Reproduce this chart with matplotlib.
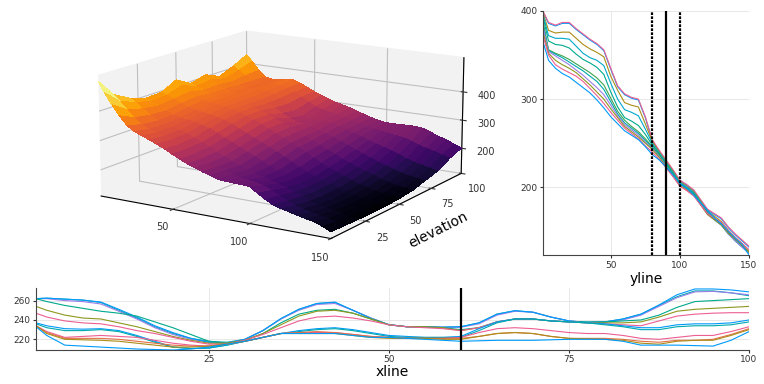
import numpy as np
import matplotlib
matplotlib.use("Agg")
import matplotlib.pyplot as plt

# 1. surface values
surf_yline = [1, 5, 10, 15, 20, 25, 30, 35, 40, 45, 50, 55, 60, 65, 70, 75, 80, 85, 90, 95, 100,
              105, 110, 115, 120, 125, 130, 135, 140, 145, 150]
surf_xline = [1, 10, 20, 30, 40, 50, 60, 70, 80, 90, 100]
surf_z = [
    [500, 465, 428, 395, 366, 350, 340, 330, 320, 308, 295, 283, 271, 262, 253, 245, 237, 235, 234, 233, 231, 214, 198, 184, 177, 171, 165, 159, 154, 144, 132],
    [440, 420, 395, 372, 352, 340, 332, 325, 316, 304, 292, 280, 268, 258, 250, 242, 234, 228, 224, 220, 215, 203, 190, 177, 167, 160, 154, 149, 144, 137, 130],
    [410, 398, 380, 362, 346, 338, 332, 326, 318, 308, 296, 284, 272, 260, 248, 238, 228, 220, 212, 205, 198, 190, 180, 170, 160, 152, 146, 141, 137, 133, 128],
    [392, 384, 372, 358, 348, 342, 338, 334, 328, 320, 308, 296, 284, 272, 260, 248, 236, 224, 212, 202, 192, 184, 176, 166, 156, 148, 142, 137, 133, 130, 127],
    [395, 388, 378, 366, 356, 350, 346, 342, 336, 330, 320, 308, 296, 284, 272, 260, 248, 236, 222, 208, 196, 186, 178, 168, 158, 150, 143, 138, 134, 130, 127],
    [422, 405, 385, 370, 362, 358, 354, 350, 344, 338, 330, 320, 308, 296, 284, 272, 260, 248, 234, 220, 206, 194, 184, 174, 164, 155, 148, 142, 137, 133, 130],
    [392, 384, 374, 366, 360, 358, 354, 350, 344, 338, 330, 320, 310, 298, 286, 274, 262, 252, 240, 228, 216, 204, 194, 184, 174, 165, 156, 149, 143, 139, 135],
    [407, 392, 376, 364, 358, 356, 354, 350, 342, 334, 322, 306, 292, 284, 280, 274, 266, 258, 248, 238, 228, 216, 206, 196, 186, 177, 168, 161, 155, 151, 148],
    [384, 378, 370, 360, 354, 354, 356, 354, 346, 336, 318, 298, 282, 276, 276, 276, 272, 264, 256, 248, 240, 230, 222, 214, 206, 196, 186, 178, 172, 166, 160],
    [405, 392, 376, 360, 352, 354, 358, 358, 350, 340, 326, 310, 298, 290, 284, 280, 274, 266, 258, 252, 248, 244, 240, 236, 232, 224, 214, 206, 200, 192, 185],
    [432, 410, 380, 358, 352, 355, 360, 362, 352, 340, 328, 318, 308, 300, 294, 287, 278, 270, 262, 256, 252, 252, 253, 254, 254, 250, 240, 230, 222, 210, 202],
]

# 2. right panel: elevation along yline
right_x = surf_yline
right_lines = [
    ("#009AFA", [399, 386, 383, 386, 386, 379, 373, 367, 362, 355, 334, 314, 305, 301, 299, 279, 253, 241, 230, 219, 207, 202, 196, 185, 174, 169, 164, 154, 146, 139, 132]),
    ("#ED5E93", [400, 387, 384, 387, 387, 380, 374, 368, 363, 356, 335, 315, 306, 302, 300, 280, 254, 242, 231, 220, 208, 203, 197, 186, 175, 170, 165, 155, 147, 140, 133]),
    ("#AC8D18", [398, 378, 375, 376, 376, 369, 362, 357, 353, 348, 326, 310, 296, 293, 291, 272, 252, 240, 229, 218, 206, 201, 195, 184, 173, 167, 161, 151, 143, 136, 128]),
    ("#00A8CB", [396, 372, 369, 369, 368, 360, 352, 347, 344, 338, 318, 300, 288, 285, 281, 266, 250, 239, 228, 217, 205, 200, 194, 183, 172, 165, 159, 149, 141, 134, 126]),
    ("#00A98D", [393, 366, 362, 361, 358, 351, 345, 341, 336, 328, 308, 291, 279, 275, 270, 260, 248, 238, 227, 216, 204, 199, 193, 182, 171, 164, 158, 148, 140, 133, 125]),
    ("#3EA44E", [388, 356, 352, 349, 345, 340, 335, 330, 324, 316, 301, 286, 276, 269, 263, 255, 246, 237, 226, 215, 203, 198, 192, 181, 170, 164, 158, 148, 140, 133, 125]),
    ("#00A9AD", [385, 355, 351, 347, 342, 337, 332, 326, 320, 311, 297, 283, 273, 267, 261, 253, 245, 236, 225, 214, 203, 198, 192, 181, 170, 163, 157, 147, 139, 132, 125]),
    ("#9B7FE8", [382, 354, 349, 344, 339, 333, 327, 320, 313, 305, 293, 281, 271, 265, 259, 251, 244, 235, 224, 213, 202, 197, 191, 180, 169, 163, 157, 147, 139, 132, 125]),
    ("#8E971D", [376, 352, 344, 339, 335, 330, 323, 316, 308, 300, 289, 279, 269, 263, 257, 250, 243, 234, 223, 213, 202, 197, 191, 180, 169, 163, 157, 148, 141, 134, 126]),
    ("#ED5E93", [372, 350, 339, 334, 330, 326, 320, 312, 304, 295, 285, 276, 267, 261, 255, 247, 240, 232, 222, 212, 201, 196, 190, 180, 170, 165, 160, 151, 143, 136, 129]),
    ("#009AFA", [365, 344, 335, 329, 325, 319, 313, 307, 299, 290, 280, 272, 264, 259, 254, 246, 237, 231, 223, 214, 204, 199, 191, 182, 174, 165, 158, 150, 142, 135, 123]),
]

# 3. bottom panel: elevation along xline
bottom_x = [1, 2.5, 5, 7.5, 10, 12.5, 15, 17.5, 20, 22.5, 25, 27.5, 30, 32.5, 35, 37.5, 40, 42.5, 45, 47.5, 50,
            52.5, 55, 57.5, 60, 62.5, 65, 67.5, 70, 72.5, 75, 77.5, 80, 82.5, 85, 87.5, 90, 92.5, 95, 97.5, 100]
bottom_lines = [
    ("#00A9AD", [262, 262.5, 261.5, 260.5, 258, 250, 242, 233, 226, 221, 218, 217, 220, 229, 241, 251, 257, 258, 250, 242, 235, 233, 233, 232.5, 233, 237, 246, 249.5, 248, 243, 239, 237.5, 238, 241, 246, 255, 264, 270, 270, 268, 265]),
    ("#9B7FE8", [262, 262, 260, 259, 256.5, 249, 241, 232, 225, 220, 217, 216, 220, 229, 241, 250, 256, 257, 250, 242, 235, 233, 233, 232.5, 232.5, 236, 245, 249, 248, 243, 239, 237.5, 238, 240, 245, 254, 263, 269, 269.5, 268, 266]),
    ("#009AFA", [262, 262.5, 261.5, 260.5, 258.5, 251, 243, 234, 227, 221, 217, 216, 220, 229, 241.5, 251, 257, 258.5, 250, 241.5, 235.3, 233, 233, 232.5, 233, 237, 246, 249.6, 248, 243, 239, 237.5, 238, 241, 246, 255.5, 266, 272, 272, 271, 269]),
    ("#00A98D", [262, 259, 255, 252, 249, 247, 244, 238, 232, 225, 218, 216, 219, 226, 237, 246, 250, 251, 247, 241, 235, 233, 233, 232, 230, 232, 238, 241, 241, 239, 238, 238, 238, 239, 240, 245, 253, 259, 260, 261, 262]),
    ("#8E971D", [254, 250, 245, 242, 241, 237, 233, 228, 223, 219, 216, 216, 219, 226, 235, 244, 249, 250, 247, 241, 235, 233, 233, 232, 229, 232, 238, 241, 241, 239, 238, 237, 237, 237, 238, 243, 249, 251, 252, 253, 254]),
    ("#ED5E93", [247, 243, 239, 237, 236, 233, 229, 226, 222, 218, 215, 215, 219, 225, 232, 239, 243, 244, 242, 239, 235, 233, 232, 231, 229, 232, 238, 241, 241, 239, 238, 237, 236, 235, 234, 239, 244, 246, 247, 247.5, 247.5]),
    ("#009AFA", [237, 234, 231, 230.5, 231, 229, 224, 218, 212, 210.5, 211, 214, 218, 222, 226, 229, 231, 232, 230, 227, 224, 223, 222, 222, 223, 231, 238, 241, 241, 239, 238, 237, 236, 234, 232, 232, 235, 236, 236, 237, 240]),
    ("#00A9AD", [236, 232, 229, 229, 230, 228, 223, 217, 212, 210.5, 211, 214, 218, 222, 226, 228, 230, 231, 229, 226, 223, 222, 222, 222, 222, 229, 237, 241, 241, 239, 238, 237, 235, 233, 230, 230, 233, 234, 234, 235, 238]),
    ("#ED5E93", [234, 228, 222, 223, 224, 223, 222, 219, 216, 214, 213, 215, 218, 222, 226, 227, 227, 227, 225, 223, 222, 221, 221, 221, 222, 227, 231, 232, 231, 229, 227, 226, 226, 224, 221, 220, 222, 224, 224, 228, 233]),
    ("#E36F47", [234, 227, 221, 221, 221, 220, 218, 216, 214, 213, 213, 215, 218, 222, 226, 227, 228, 227, 225, 223, 222, 221, 221, 221, 221, 223, 226, 227, 226, 223, 221, 221, 221, 220, 218, 217, 219, 219, 220, 225, 231]),
    ("#AC8D18", [234, 226, 220, 219.5, 219, 218, 216, 214, 212, 212, 213, 215, 218, 222, 226, 226, 226, 226, 224, 222, 221, 221, 221, 220, 220, 223, 226, 227, 226, 223, 221, 220.5, 220, 219, 216, 215, 218, 219, 219, 224, 230]),
    ("#009AFA", [233, 224, 214, 213, 212, 211, 210, 209.5, 209, 210, 212, 215, 218, 222, 226, 226, 226, 226, 224, 222, 222, 221, 220, 219, 218, 218.5, 219, 219, 219, 219.5, 220, 220, 220, 218, 214, 214, 214, 213.5, 213, 219, 228]),
]

plt.rcParams['font.family'] = 'DejaVu Sans'
fig = plt.figure(figsize=(7.64, 3.84), dpi=100)

# 4. 3D 曲面 (axes box stays square, so the surface must not be clipped to it)
ax3d = fig.add_axes([0.037, 0.21, 0.66, 0.9], projection='3d')
X, Y = np.meshgrid(surf_yline, surf_xline)
surf = ax3d.plot_surface(X, Y, np.array(surf_z), cmap='inferno', vmin=125, vmax=470,
                         linewidth=0, antialiased=False, shade=False)
surf.set_clip_on(False)
ax3d.set_xlim(1, 150)
ax3d.set_ylim(1, 100)
ax3d.set_zlim(110, 520)
ax3d.set_xticks([50, 100, 150])
ax3d.set_yticks([25, 50, 75, 100])
ax3d.set_zticks([200, 300, 400])
ax3d.tick_params(labelsize=7, pad=1, colors='#333333')
ax3d.set_ylabel('elevation', fontsize=10, labelpad=0)
ax3d.view_init(elev=14, azim=-58)
ax3d.set_box_aspect((4, 4, 1.85), zoom=1.1)
for a in (ax3d.xaxis, ax3d.yaxis, ax3d.zaxis):
    a.set_pane_color((0.95, 0.95, 0.95, 1.0))
    a._axinfo['grid']['color'] = (0.75, 0.75, 0.75, 1)
    a._axinfo['grid']['linewidth'] = 0.8


def style_axes(ax):
    ax.spines['top'].set_visible(False)
    ax.spines['right'].set_visible(False)
    ax.spines['left'].set_color('#444444')
    ax.spines['bottom'].set_color('#444444')
    ax.grid(True, color='#e8e8e8', linewidth=0.7)
    ax.set_axisbelow(True)
    ax.tick_params(labelsize=6.5, length=2, pad=2, colors='#333333')


# 5. 右圖
W, H = 764.0, 384.0
ax_r = fig.add_axes([543 / W, 1 - 255 / H, 206 / W, 244 / H])
for color, vals in right_lines:
    ax_r.plot(right_x, vals, color=color, linewidth=0.8)
ax_r.axvline(80, color='black', linestyle=(0, (1.2, 0.6)), linewidth=1.6)
ax_r.axvline(90, color='black', linewidth=1.6)
ax_r.axvline(100, color='black', linestyle=(0, (1.2, 0.6)), linewidth=1.6)
ax_r.set_xlim(1, 150)
ax_r.set_ylim(123, 400)
ax_r.set_xticks([50, 100, 150])
ax_r.set_yticks([200, 300, 400])
ax_r.set_xlabel('yline', fontsize=10, labelpad=2)
style_axes(ax_r)

# 6. 下圖
ax_b = fig.add_axes([36 / W, 1 - 349.5 / H, 713 / W, 61.5 / H])
for color, vals in bottom_lines:
    ax_b.plot(bottom_x, vals, color=color, linewidth=0.8)
ax_b.axvline(60, color='black', linewidth=1.6)
ax_b.set_xlim(1, 100)
ax_b.set_ylim(209.5, 273)
ax_b.set_xticks([25, 50, 75, 100])
ax_b.set_yticks([220, 240, 260])
ax_b.set_xlabel('xline', fontsize=10, labelpad=1)
style_axes(ax_b)

fig.savefig('out.png', dpi=100)
